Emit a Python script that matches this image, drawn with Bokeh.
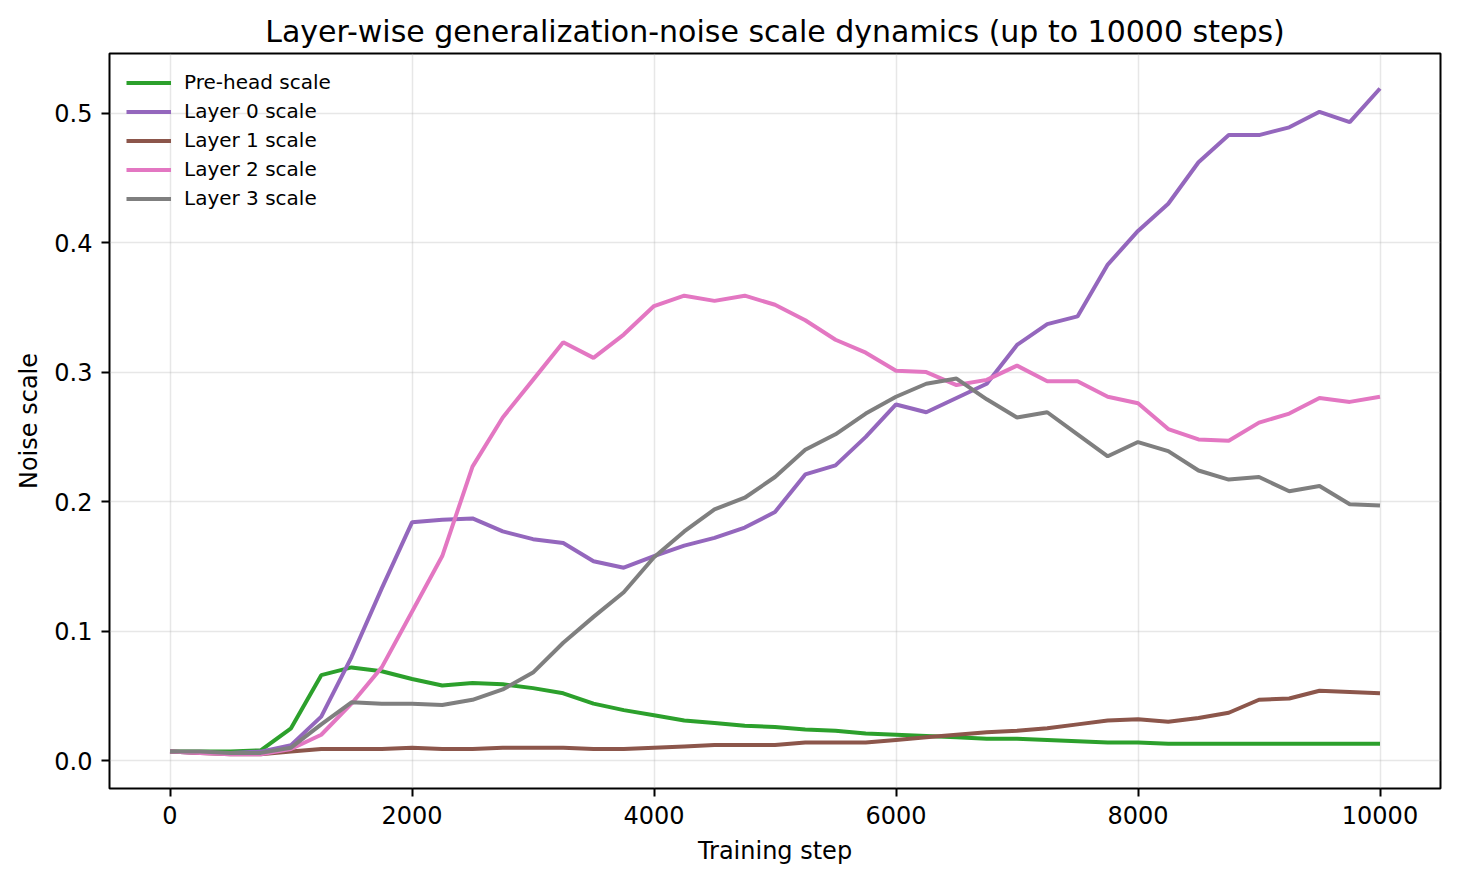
from bokeh.plotting import figure
from bokeh.models import Legend, LegendItem, FixedTicker, NumeralTickFormatter, Range1d
from bokeh.embed import file_html
from bokeh.resources import INLINE

steps = list(range(0, 10001, 250))

prehead = [0.007, 0.007, 0.007, 0.008, 0.025, 0.066, 0.072, 0.069, 0.063, 0.058,
           0.060, 0.059, 0.056, 0.052, 0.044, 0.039, 0.035, 0.031, 0.029, 0.027,
           0.026, 0.024, 0.023, 0.021, 0.020, 0.019, 0.018, 0.017, 0.017, 0.016,
           0.015, 0.014, 0.014, 0.013, 0.013, 0.013, 0.013, 0.013, 0.013, 0.013, 0.013]

layer0 = [0.007, 0.006, 0.006, 0.007, 0.012, 0.034, 0.080, 0.133, 0.184, 0.186,
          0.187, 0.177, 0.171, 0.168, 0.154, 0.149, 0.158, 0.166, 0.172, 0.180,
          0.192, 0.221, 0.228, 0.250, 0.275, 0.269, 0.280, 0.291, 0.321, 0.337,
          0.343, 0.383, 0.409, 0.430, 0.462, 0.483, 0.483, 0.489, 0.501, 0.493, 0.519]

layer1 = [0.007, 0.006, 0.005, 0.005, 0.007, 0.009, 0.009, 0.009, 0.010, 0.009,
          0.009, 0.010, 0.010, 0.010, 0.009, 0.009, 0.010, 0.011, 0.012, 0.012,
          0.012, 0.014, 0.014, 0.014, 0.016, 0.018, 0.020, 0.022, 0.023, 0.025,
          0.028, 0.031, 0.032, 0.030, 0.033, 0.037, 0.047, 0.048, 0.054, 0.053, 0.052]

layer2 = [0.007, 0.006, 0.005, 0.005, 0.009, 0.020, 0.044, 0.072, 0.115, 0.158,
          0.227, 0.265, 0.294, 0.323, 0.311, 0.329, 0.351, 0.359, 0.355, 0.359,
          0.352, 0.340, 0.325, 0.315, 0.301, 0.300, 0.290, 0.294, 0.305, 0.293,
          0.293, 0.281, 0.276, 0.256, 0.248, 0.247, 0.261, 0.268, 0.280, 0.277, 0.281]

layer3 = [0.007, 0.007, 0.006, 0.006, 0.010, 0.028, 0.045, 0.044, 0.044, 0.043,
          0.047, 0.055, 0.068, 0.091, 0.111, 0.130, 0.157, 0.177, 0.194, 0.203,
          0.219, 0.240, 0.252, 0.268, 0.281, 0.291, 0.295, 0.279, 0.265, 0.269,
          0.252, 0.235, 0.246, 0.239, 0.224, 0.217, 0.219, 0.208, 0.212, 0.198, 0.197]

series_names = ["Pre-head scale", "Layer 0 scale", "Layer 1 scale", "Layer 2 scale", "Layer 3 scale"]
series_values = [prehead, layer0, layer1, layer2, layer3]
series_colors = ["#2ca02c", "#9467bd", "#8c564b", "#e377c2", "#7f7f7f"]

x_ticks = [0, 2000, 4000, 6000, 8000, 10000]
y_ticks = [0.0, 0.1, 0.2, 0.3, 0.4, 0.5]

FONT = "DejaVu Sans"

p = figure(width=1449, height=873, output_backend="svg", toolbar_location=None,
           x_range=Range1d(-500, 10500), y_range=Range1d(-0.0215, 0.546),
           title="Layer-wise generalization-noise scale dynamics (up to 10000 steps)",
           min_border_left=109, min_border_right=9, min_border_top=53, min_border_bottom=85)

p.title.align = "center"
p.title.text_font = FONT
p.title.text_font_size = "30px"
p.title.text_font_style = "normal"
p.title.text_color = "black"

p.outline_line_color = "black"
p.outline_line_width = 2
p.outline_line_alpha = 1.0

items = []
for name, vals, col in zip(series_names, series_values, series_colors):
    r = p.line(steps, vals, line_color=col, line_width=4)
    items.append(LegendItem(label=name, renderers=[r]))

legend = Legend(items=items, location="top_left")
legend.background_fill_alpha = 0
legend.border_line_alpha = 0
legend.label_text_font = FONT
legend.label_text_font_size = "20px"
legend.label_text_color = "black"
legend.glyph_width = 45
legend.glyph_height = 23
legend.label_height = 23
legend.label_standoff = 13
legend.spacing = 5
legend.padding = 7
legend.margin = 10
p.add_layout(legend)

p.xaxis.ticker = FixedTicker(ticks=x_ticks)
p.yaxis.ticker = FixedTicker(ticks=y_ticks)
p.yaxis.formatter = NumeralTickFormatter(format="0.0")
p.xaxis.axis_label = "Training step"
p.yaxis.axis_label = "Noise scale"
for ax in (p.xaxis, p.yaxis):
    ax.axis_label_text_font = FONT
    ax.axis_label_text_font_size = "24px"
    ax.axis_label_text_font_style = "normal"
    ax.axis_label_text_color = "black"
    ax.major_label_text_font = FONT
    ax.major_label_text_font_size = "24px"
    ax.major_label_text_color = "black"
    ax.major_label_standoff = 9
    ax.axis_line_color = None
    ax.major_tick_line_color = "black"
    ax.major_tick_line_width = 2
    ax.major_tick_out = 8
    ax.major_tick_in = 0
    ax.minor_tick_line_color = None
p.xaxis.axis_label_standoff = 10
p.yaxis.axis_label_standoff = 8

p.xgrid.ticker = FixedTicker(ticks=x_ticks)
p.ygrid.ticker = FixedTicker(ticks=y_ticks)
p.grid.grid_line_color = "#b0b0b0"
p.grid.grid_line_alpha = 0.3
p.grid.grid_line_width = 1.5

open("out.html", "w").write(file_html(p, INLINE))
